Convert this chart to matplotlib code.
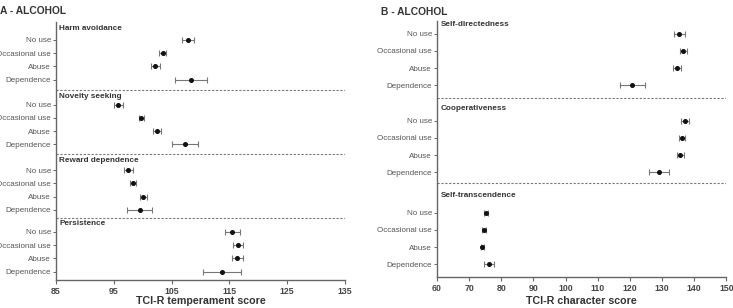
import matplotlib
matplotlib.use("Agg")
import matplotlib.pyplot as plt

levels = ["No use", "Occasional use", "Abuse", "Dependence"]

# Panel A - temperament
temp_traits = ["Harm avoidance", "Novelty seeking", "Reward dependence", "Persistence"]
temp_means = [
    [107.9, 103.45, 102.2, 108.4],
    [95.8, 99.8, 102.5, 107.3],
    [97.5, 98.3, 100.1, 99.5],
    [115.5, 116.5, 116.4, 113.8],
]
temp_errs = [
    [1.05, 0.6, 0.8, 2.8],
    [0.8, 0.5, 0.7, 2.2],
    [0.8, 0.55, 0.6, 2.2],
    [1.3, 0.9, 0.95, 3.3],
]
temp_ticks = [85, 95, 105, 115, 125, 135]

# Panel B - character
char_traits = ["Self-directedness", "Cooperativeness", "Self-transcendence"]
char_means = [
    [135.4, 136.6, 134.7, 120.8],
    [137.2, 136.2, 135.7, 129.1],
    [75.2, 74.6, 74.1, 76.2],
]
char_errs = [
    [1.7, 1.1, 1.2, 3.9],
    [1.2, 0.9, 1.1, 3.2],
    [0.7, 0.6, 0.5, 1.7],
]
char_ticks = [60, 70, 80, 90, 100, 110, 120, 130, 140, 150]

TXT = "#333333"
SP = "#666666"

fig = plt.figure(figsize=(7.33, 3.08), dpi=100)
plt.rcParams["font.family"] = ["Liberation Sans", "DejaVu Sans"]


def draw(ax, traits, means, errs, offsets, seps, title_off, ylim, xticks):
    ys, labels = [], []
    for g, (tr, m, e) in enumerate(zip(traits, means, errs)):
        y = [offsets[g] + i for i in range(4)]
        ax.errorbar(m, y, xerr=e, fmt="o", color="#111111", ms=2.6,
                    ecolor="#777777", elinewidth=0.8, capsize=2, capthick=0.8)
        ax.text(0.012, offsets[g] - title_off[g], tr, transform=ax.get_yaxis_transform(),
                fontsize=5.9, fontweight="bold", color=TXT, va="center", ha="left")
        ys += y
        labels += levels
    for s in seps:
        ax.axhline(s, color="#777777", lw=0.8, ls=(0, (2, 1.5)))
    ax.set_yticks(ys)
    ax.set_yticklabels(labels, fontsize=5.8, color="#555555")
    ax.set_ylim(ylim)
    ax.set_xlim(xticks[0], xticks[-1])
    ax.set_xticks(xticks)
    ax.tick_params(axis="x", labelsize=6.3, colors=SP, length=3, width=0.8, pad=2)
    ax.tick_params(axis="y", length=2.5, width=0.7, colors=SP, labelcolor="#555555", pad=1)
    for lab in ax.get_xticklabels():
        lab.set_fontweight("bold")
        lab.set_color("#444444")
    ax.spines["top"].set_visible(False)
    ax.spines["right"].set_visible(False)
    for s in ("left", "bottom"):
        ax.spines[s].set_color(SP)
        ax.spines[s].set_linewidth(1.0)


axA = fig.add_axes([0.0764, 0.0909, 0.394, 0.838])
draw(axA, temp_traits, temp_means, temp_errs,
     offsets=[0, 4.88, 9.81, 14.47], seps=[3.74, 8.6, 13.43],
     title_off=[0.85, 0.6, 0.75, 0.6], ylim=(18.1, -1.36), xticks=temp_ticks)

axB = fig.add_axes([0.596, 0.1016, 0.395, 0.830])
draw(axB, char_traits, char_means, char_errs,
     offsets=[0, 5.06, 10.42], seps=[3.72, 8.7],
     title_off=[0.56, 0.72, 1.0], ylim=(14.14, -0.74), xticks=char_ticks)

fig.text(0.0764 + 0.394 / 2, 0.022, "TCI-R temperament score", fontsize=7.7,
         fontweight="bold", color=TXT, ha="center", va="center")
fig.text(0.596 + 0.395 / 2, 0.022, "TCI-R character score", fontsize=7.7,
         fontweight="bold", color=TXT, ha="center", va="center")

fig.text(0.0, 0.965, "A - ALCOHOL", fontsize=7.4, fontweight="bold", color=TXT, va="center", ha="left")
fig.text(0.52, 0.96, "B - ALCOHOL", fontsize=7.4, fontweight="bold", color=TXT, va="center", ha="left")

fig.savefig("out.png", dpi=100)
